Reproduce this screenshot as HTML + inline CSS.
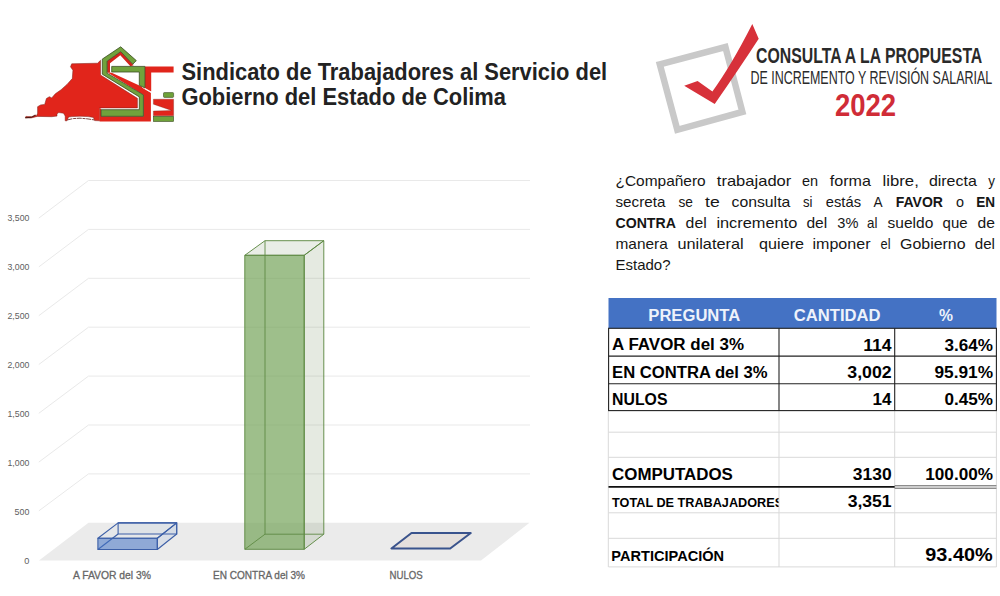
<!DOCTYPE html>
<html><head><meta charset="utf-8">
<style>
html,body{margin:0;padding:0;background:#fff;}
body{width:1000px;height:596px;position:relative;overflow:hidden;font-family:"Liberation Sans",sans-serif;}
svg{position:absolute;left:0;top:0;}
text{font-family:"Liberation Sans",sans-serif;}
.pl{position:absolute;left:615px;width:381px;font-size:15.4px;line-height:21px;height:21px;color:#151515;text-align:justify;text-align-last:justify;white-space:nowrap;overflow:visible;}
</style></head><body>
<svg width="1000" height="596" viewBox="0 0 1000 596">
<!-- ===== left logo ===== -->
<g id="logoL">
<!-- map -->
<path d="M25.3,117.9 L25.9,116.4 L31.8,116.7 L35.3,114.9 L36.5,116.1 L37.6,113.2 L37.6,106.7 L40.6,104.9 L44.7,104.4 L46.4,98.5 L49.4,96.7 L51.7,97.9 L55.3,93.8 L61.1,89.7 L67,84.4 L72.3,78.5 L72.9,70.3 L70.5,66.8 L71.7,63.8 L97.6,63.2 L100.5,60.3 L100.5,75 L137.4,98.3 L137.4,107.9 L99.6,107.9 L99.6,120.8 L94.6,120.6 L93.4,117.4 L88,116.6 L80,116.2 L72,116.6 L68.6,117 L67,120.8 L65.2,120.8 L65.2,116.1 L63.5,113.2 L58.8,112.6 L57,113.8 L57,116.1 L51.7,116.7 L37.3,116.4 L31,118 Z" fill="#e1251b" stroke="#7a1c14" stroke-width="0.5"/>
<path d="M67.5,119.9 L73,118.6 L80,118.2 L87,118.8 L94.2,119.9" fill="none" stroke="#5a1a14" stroke-width="0.8" stroke-dasharray="5 0.8 3 0.6"/>
<path d="M25.3,117.8 L31.5,117.2 L35.5,115.3" fill="none" stroke="#3a1612" stroke-width="0.9"/>
<!-- red block under S/T -->
<path d="M99.6,108.6 L99.6,121.5 L150.9,121.5 L150.9,92.6 L144.9,89 L144.9,88.1 L139.3,85.5 L111.7,72.7 L107.1,72.2 L143.4,94.9 L143.4,116.3 L101.1,116.3 L101.1,108.6 Z" fill="#e1251b"/>
<path d="M144.9,66.4 L173.6,66.4 L173.6,72.6 L151.2,72.6 L151.2,91.6 L144.9,88 Z" fill="#e1251b"/>
<path d="M133.6,65.2 L130.4,66.3 L120.3,55.2 L110,63.2 L110,72.6 L107.1,72.6 L107.1,61.1 L120.7,51.6 L132.8,64.2 Z" fill="#d3241b"/>
<path d="M142.2,87.3 L151.2,92.6" stroke="#fff" stroke-width="0.9" fill="none"/>
<!-- green S -->
<path d="M102.3,59.1 L120.7,46.8 L136.3,60.6 L132.8,64.2 L120.7,51.6 L107.1,61.1 L107.1,73.2 L143.4,94.9 L143.4,116.3 L101.1,116.3 L101.1,109.7 L139.3,109.7 L139.3,96.9 L102.3,74.2 Z" fill="#70a23c" stroke="#3c4c24" stroke-width="0.8"/>
<!-- green T -->
<path d="M111.7,66.4 L144.9,66.4 L144.9,87.8 L139.3,85.3 L139.3,72 L111.7,72 Z" fill="#70a23c" stroke="#3c4c24" stroke-width="0.8"/>
<!-- small s -->
<rect x="163.5" y="92.6" width="10.1" height="4.8" rx="0.8" fill="#6fa23a" stroke="#3c4c24" stroke-width="0.6"/>
<path d="M153.4,99.2 L173.6,99.2 L173.6,115.8 L153.4,115.8 L153.4,111 L171.6,110.5 L153.4,104.2 Z" fill="#e1251b" stroke="#6b1a12" stroke-width="0.3"/>
<rect x="153.4" y="116.3" width="20.2" height="5.2" fill="#6fa23a" stroke="#3c4c24" stroke-width="0.6"/>
</g>
<text x="181.5" y="80" font-size="23.2" font-weight="bold" fill="#222" textLength="425.7" lengthAdjust="spacingAndGlyphs">Sindicato de Trabajadores al Servicio del</text>
<text x="181.5" y="104.6" font-size="23.2" font-weight="bold" fill="#222" textLength="324.4" lengthAdjust="spacingAndGlyphs">Gobierno del Estado de Colima</text>

<!-- ===== right logo ===== -->
<g id="logoR">
<polygon points="659.8,64.3 725.4,47 742.4,112 677.3,129.8" fill="none" stroke="#c9c9c9" stroke-width="6.5" stroke-linejoin="miter"/>
<path d="M752.3,24.1 L758.7,38.7 Q741,66 714.7,104 L684.2,85.7 L697.6,81 L712.4,91.5 Q731,66 752.3,24.1 Z" fill="#d7313a"/>
<text x="756.1" y="62.5" font-size="21.6" font-weight="bold" fill="#2a2a2a" textLength="226.2" lengthAdjust="spacingAndGlyphs">CONSULTA A LA PROPUESTA</text>
<text x="750.4" y="84.1" font-size="18.2" fill="#2a2a2a" textLength="241.8" lengthAdjust="spacingAndGlyphs">DE INCREMENTO Y REVISIÓN SALARIAL</text>
<text x="834.9" y="115.8" font-size="31.6" font-weight="bold" fill="#d02c37" textLength="61.1" lengthAdjust="spacingAndGlyphs">2022</text>
</g>

<!-- ===== chart ===== -->
<g id="chart">
<polygon points="39,560.6 481,560.6 529.5,522.7 88.5,522.7" fill="#ebebeb"/>
<g stroke="#e9e9e9" stroke-width="1" fill="none">
<polyline points="38.8,218.1 88.5,180.5 530,180.5"/>
<polyline points="38.8,266.9 88.5,229.4 530,229.4"/>
<polyline points="38.8,315.7 88.5,278.3 530,278.3"/>
<polyline points="38.8,364.5 88.5,327.2 530,327.2"/>
<polyline points="38.8,413.3 88.5,376.1 530,376.1"/>
<polyline points="38.8,462.1 88.5,425 530,425"/>
<polyline points="38.8,510.9 88.5,473.9 530,473.9"/>
</g>
<g font-size="9.9" fill="#606060">
<text x="7.5" y="220.8" textLength="21.9" lengthAdjust="spacingAndGlyphs">3,500</text>
<text x="7.5" y="269.8" textLength="21.9" lengthAdjust="spacingAndGlyphs">3,000</text>
<text x="7.5" y="318.8" textLength="21.9" lengthAdjust="spacingAndGlyphs">2,500</text>
<text x="7.5" y="367.8" textLength="21.9" lengthAdjust="spacingAndGlyphs">2,000</text>
<text x="7.5" y="416.8" textLength="21.9" lengthAdjust="spacingAndGlyphs">1,500</text>
<text x="7.5" y="465.8" textLength="21.9" lengthAdjust="spacingAndGlyphs">1,000</text>
<text x="14.6" y="514.8" textLength="14.8" lengthAdjust="spacingAndGlyphs">500</text>
<text x="24.3" y="563.8" textLength="5.1" lengthAdjust="spacingAndGlyphs">0</text>
</g>
<!-- blue bar -->
<g stroke="#3c5fa7" stroke-width="1.1" stroke-linejoin="round">
<rect x="118.1" y="522.9" width="58.6" height="11.1" fill="rgba(68,114,196,0.03)"/>
<polygon points="97.9,538.2 157.3,538.2 176.7,522.9 118.1,522.9" fill="rgba(68,114,196,0.03)"/>
<polygon points="157.3,538.2 176.7,522.9 176.7,534 157.3,549.5" fill="rgba(68,114,196,0.10)"/>
<line x1="97.9" y1="549.5" x2="118.1" y2="534"/>
<rect x="97.9" y="538.2" width="59.4" height="11.3" fill="rgba(68,114,196,0.55)"/>
</g>
<!-- green bar -->
<g stroke="#5f8a44" stroke-width="0.95" stroke-linejoin="round">
<polygon points="304.2,255.3 323.8,240.7 323.8,534.2 304.2,549.3" fill="rgba(100,130,80,0.17)"/>
<polygon points="244.8,255.3 304.2,255.3 323.8,240.7 265,240.7" fill="rgba(100,130,80,0.14)"/>
<rect x="244.8" y="255.3" width="59.4" height="294" fill="rgba(112,160,84,0.68)"/>
<polyline points="265,240.7 265,534.2 323.8,534.2" fill="none" stroke-width="0.9"/>
<line x1="244.8" y1="549.3" x2="265" y2="534.2" stroke-width="0.9"/>
</g>
<!-- nulos -->
<polygon points="391.4,548.5 450.2,548.5 470.8,533 411.5,533" fill="#e5e0dd" stroke="#3a538c" stroke-width="2" stroke-linejoin="round"/>
<g font-size="11" fill="#666" stroke="#666" stroke-width="0.3">
<text x="73" y="579" textLength="78" lengthAdjust="spacingAndGlyphs">A FAVOR del 3%</text>
<text x="213" y="579" textLength="92" lengthAdjust="spacingAndGlyphs">EN CONTRA del 3%</text>
<text x="389.5" y="579" textLength="33.2" lengthAdjust="spacingAndGlyphs">NULOS</text>
</g>
</g>

<g id="para" font-size="15" fill="#161616">
<text x="615.5" y="185.7" textLength="90.2" lengthAdjust="spacingAndGlyphs">¿Compañero</text>
<text x="716.8" y="185.7" textLength="74.5" lengthAdjust="spacingAndGlyphs">trabajador</text>
<text x="802" y="185.7" textLength="16.1" lengthAdjust="spacingAndGlyphs">en</text>
<text x="829.8" y="185.7" textLength="41.1" lengthAdjust="spacingAndGlyphs">forma</text>
<text x="882.6" y="185.7" textLength="36.2" lengthAdjust="spacingAndGlyphs">libre,</text>
<text x="928.9" y="185.7" textLength="47.9" lengthAdjust="spacingAndGlyphs">directa</text>
<text x="988.3" y="185.7" textLength="6.7" lengthAdjust="spacingAndGlyphs">y</text>
<text x="615.5" y="206.7" textLength="49.9" lengthAdjust="spacingAndGlyphs">secreta</text>
<text x="678.5" y="206.7" textLength="14.5" lengthAdjust="spacingAndGlyphs">se</text>
<text x="705.1" y="206.7" textLength="14.7" lengthAdjust="spacingAndGlyphs">te</text>
<text x="731.5" y="206.7" textLength="58.8" lengthAdjust="spacingAndGlyphs">consulta</text>
<text x="803" y="206.7" textLength="9.5" lengthAdjust="spacingAndGlyphs">si</text>
<text x="825.8" y="206.7" textLength="35.2" lengthAdjust="spacingAndGlyphs">estás</text>
<text x="873.5" y="206.7" textLength="9.1" lengthAdjust="spacingAndGlyphs">A</text>
<text x="895.7" y="206.7" textLength="47.3" lengthAdjust="spacingAndGlyphs" font-weight="bold">FAVOR</text>
<text x="956.1" y="206.7" textLength="8.0" lengthAdjust="spacingAndGlyphs">o</text>
<text x="976.2" y="206.7" textLength="18.8" lengthAdjust="spacingAndGlyphs" font-weight="bold">EN</text>
<text x="615.5" y="227.6" textLength="60.4" lengthAdjust="spacingAndGlyphs" font-weight="bold">CONTRA</text>
<text x="685.6" y="227.6" textLength="21.1" lengthAdjust="spacingAndGlyphs">del</text>
<text x="716.4" y="227.6" textLength="80.9" lengthAdjust="spacingAndGlyphs">incremento</text>
<text x="806.4" y="227.6" textLength="20.8" lengthAdjust="spacingAndGlyphs">del</text>
<text x="837.3" y="227.6" textLength="21.1" lengthAdjust="spacingAndGlyphs">3%</text>
<text x="867.1" y="227.6" textLength="10.4" lengthAdjust="spacingAndGlyphs">al</text>
<text x="887.6" y="227.6" textLength="45.7" lengthAdjust="spacingAndGlyphs">sueldo</text>
<text x="942.6" y="227.6" textLength="25.0" lengthAdjust="spacingAndGlyphs">que</text>
<text x="977.6" y="227.6" textLength="17.4" lengthAdjust="spacingAndGlyphs">de</text>
<text x="615.5" y="248.6" textLength="52.3" lengthAdjust="spacingAndGlyphs">manera</text>
<text x="677.5" y="248.6" textLength="66.1" lengthAdjust="spacingAndGlyphs">unilateral</text>
<text x="759.1" y="248.6" textLength="44.9" lengthAdjust="spacingAndGlyphs">quiere</text>
<text x="812.5" y="248.6" textLength="58.0" lengthAdjust="spacingAndGlyphs">imponer</text>
<text x="880.6" y="248.6" textLength="10.0" lengthAdjust="spacingAndGlyphs">el</text>
<text x="900.1" y="248.6" textLength="65.5" lengthAdjust="spacingAndGlyphs">Gobierno</text>
<text x="974.8" y="248.6" textLength="20.2" lengthAdjust="spacingAndGlyphs">del</text>
<text x="615.5" y="269.7" textLength="55.0" lengthAdjust="spacingAndGlyphs">Estado?</text>
</g>
<!-- ===== table ===== -->
<g id="table">
<rect x="608.5" y="298" width="388" height="30.3" fill="#4472c4"/>
<g stroke="#d9d9d9" stroke-width="1" fill="none">
<line x1="608.5" y1="432.2" x2="996.4" y2="432.2"/>
<line x1="608.5" y1="457.3" x2="996.4" y2="457.3"/>
<line x1="608.5" y1="512.8" x2="996.4" y2="512.8"/>
<line x1="608.5" y1="538.3" x2="996.4" y2="538.3"/>
<line x1="608.5" y1="566.9" x2="996.4" y2="566.9"/>
<line x1="608.3" y1="411" x2="608.3" y2="567"/>
<line x1="779" y1="411" x2="779" y2="567"/>
<line x1="894.7" y1="411" x2="894.7" y2="567"/>
<line x1="996.4" y1="411" x2="996.4" y2="567"/>
</g>
<g stroke="#222" stroke-width="1.1" fill="none">
<rect x="608.6" y="328.3" width="387.8" height="82.3"/>
<line x1="608.6" y1="356.1" x2="996.4" y2="356.1"/>
<line x1="608.6" y1="383.7" x2="996.4" y2="383.7"/>
<line x1="779" y1="328.3" x2="779" y2="410.6"/>
<line x1="894.7" y1="328.3" x2="894.7" y2="410.6"/>
</g>
<line x1="608.5" y1="486.9" x2="894.7" y2="486.9" stroke="#111" stroke-width="1.7"/>
<line x1="894.7" y1="485.8" x2="996.4" y2="485.8" stroke="#333" stroke-width="0.8"/>
<line x1="894.7" y1="488.2" x2="996.4" y2="488.2" stroke="#333" stroke-width="0.8"/>
<g font-weight="bold" font-size="15.6" fill="#eef2fb">
<text x="648.3" y="320.6" textLength="92" lengthAdjust="spacingAndGlyphs">PREGUNTA</text>
<text x="793.8" y="320.6" textLength="86.8" lengthAdjust="spacingAndGlyphs">CANTIDAD</text>
<text x="939" y="320.6" textLength="14" lengthAdjust="spacingAndGlyphs">%</text>
</g>
<g font-weight="bold" font-size="15.6" fill="#000">
<text x="612.1" y="350.4" textLength="131.9" lengthAdjust="spacingAndGlyphs">A FAVOR del 3%</text>
<text x="612.1" y="378" textLength="155.5" lengthAdjust="spacingAndGlyphs">EN CONTRA del 3%</text>
<text x="612.1" y="405.2" textLength="55.4" lengthAdjust="spacingAndGlyphs">NULOS</text>
<text x="612.1" y="479.7" textLength="120.8" lengthAdjust="spacingAndGlyphs">COMPUTADOS</text>
</g>
<g font-weight="bold" font-size="16" fill="#000">
<text x="863.2" y="350.6" textLength="28.4" lengthAdjust="spacingAndGlyphs">114</text>
<text x="847.3" y="378.2" textLength="44.3" lengthAdjust="spacingAndGlyphs">3,002</text>
<text x="872.6" y="405.4" textLength="19" lengthAdjust="spacingAndGlyphs">14</text>
<text x="944.6" y="350.6" textLength="48.4" lengthAdjust="spacingAndGlyphs">3.64%</text>
<text x="934.5" y="378.2" textLength="58.5" lengthAdjust="spacingAndGlyphs">95.91%</text>
<text x="944.6" y="405.4" textLength="48.4" lengthAdjust="spacingAndGlyphs">0.45%</text>
<text x="852.8" y="479.8" textLength="38.8" lengthAdjust="spacingAndGlyphs">3130</text>
<text x="925.3" y="479.8" textLength="67.7" lengthAdjust="spacingAndGlyphs">100.00%</text>
<text x="847.7" y="507" textLength="43.9" lengthAdjust="spacingAndGlyphs">3,351</text>
</g>
<text x="925.3" y="560.8" font-weight="bold" font-size="17.6" fill="#000" textLength="67.3" lengthAdjust="spacingAndGlyphs">93.40%</text>
<clipPath id="c1"><rect x="608" y="488" width="170.6" height="24"/></clipPath>
<text x="612.1" y="506.7" font-weight="bold" font-size="12.6" fill="#000" textLength="171" lengthAdjust="spacingAndGlyphs" clip-path="url(#c1)">TOTAL DE TRABAJADORES</text>
<text x="611.3" y="560.6" font-weight="bold" font-size="13.8" fill="#000" textLength="112.8" lengthAdjust="spacingAndGlyphs">PARTICIPACIÓN</text>
</g>
</svg>
</body></html>
